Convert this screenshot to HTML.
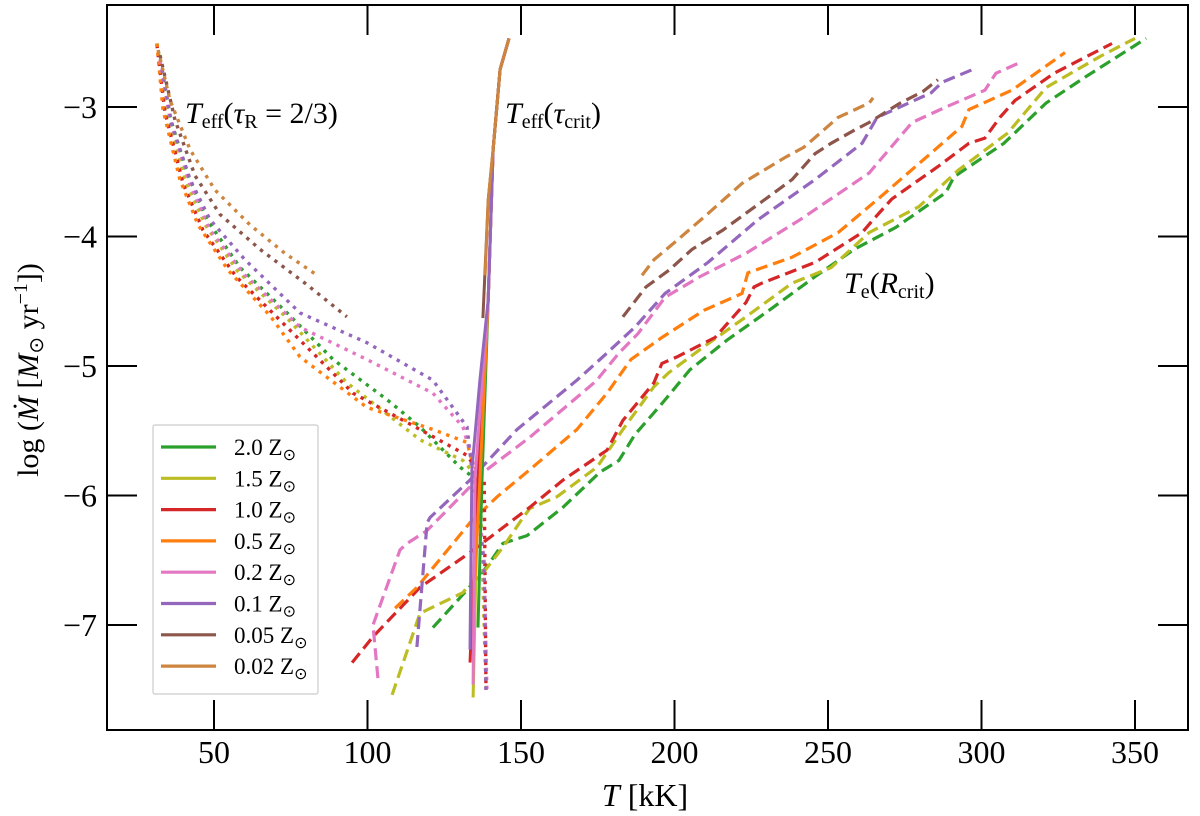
<!DOCTYPE html>
<html><head><meta charset="utf-8"><style>
html,body{margin:0;padding:0;background:#fff;}
svg{display:block;font-family:"Liberation Serif",serif;}
</style></head><body>
<svg id="chart" width="1200" height="816" viewBox="0 0 1200 816" xmlns="http://www.w3.org/2000/svg">
<g id="marks"></g>
<g id="axes"></g>
<text x="185" y="123" font-size="30"><tspan font-style="italic">T</tspan><tspan font-size="20" dy="5">eff</tspan><tspan dy="-5">(</tspan><tspan font-style="italic">τ</tspan><tspan font-size="20" dy="5">R</tspan><tspan dy="-5"> = 2/3)</tspan></text>
<text x="505" y="123" font-size="30"><tspan font-style="italic">T</tspan><tspan font-size="20" dy="5">eff</tspan><tspan dy="-5">(</tspan><tspan font-style="italic">τ</tspan><tspan font-size="20" dy="5">crit</tspan><tspan dy="-5">)</tspan></text>
<text x="844" y="293" font-size="30"><tspan font-style="italic">T</tspan><tspan font-size="20" dy="5">e</tspan><tspan dy="-5">(</tspan><tspan font-style="italic">R</tspan><tspan font-size="20" dy="5">crit</tspan><tspan dy="-5">)</tspan></text>
<text x="645" y="806" font-size="32" text-anchor="middle"><tspan font-style="italic">T</tspan> [kK]</text>
<text transform="translate(38,370) rotate(-90)" font-size="30" text-anchor="middle">log (<tspan font-style="italic">Ṁ</tspan> [<tspan font-style="italic">M</tspan><tspan font-size="20" dy="5">⊙</tspan><tspan dy="-5"> yr</tspan><tspan font-size="20" dy="-11">−1</tspan><tspan dy="11">])</tspan></text>
<g id="legend"></g>
</svg>
<script>
const labels = ['2.0','1.5','1.0','0.5','0.2','0.1','0.05','0.02'];
const colors = ['#2ca02c','#bcbd22','#d62728','#ff7f0e','#e377c2','#9467bd','#8c564b','#cd853f'];
const xTicks = [50,100,150,200,250,300,350];
const yTicks = [-3,-4,-5,-6,-7];

const dotT = [
 [31.4,34.7,41.2,47.7,58.5,73.8,88.8,106.4,117.1,130.1,133.4],
 [31.4,34.4,40.6,47.1,57.8,73.8,93.3,117.1,131.1,136.6,138.6],
 [31.4,34.0,39.9,46.4,57.2,72.5,95.3,117.1,132.4,138.0,138.6],
 [31.4,33.4,38.9,44.8,54.6,68.2,78.0,99.8,121.3,132.4,134.0],
 [32.4,35.7,42.2,48.7,60.1,78.0,99.8,121.3,131.1,135.0,137.9,138.9],
 [33.1,36.3,42.2,48.7,60.1,78.0,99.8,121.3,132.4,134.0,137.9,138.6],
 [32.4,37.3,43.8,52.0,65.0,79.6,93.3],
 [31.8,35.7,42.2,50.3,61.7,73.1,83.6]
];
const dotM = [
 [-2.51,-3.0,-3.51,-3.87,-4.24,-4.59,-4.95,-5.26,-5.47,-5.78,-5.84],
 [-2.51,-3.02,-3.56,-3.91,-4.27,-4.63,-5.13,-5.57,-5.73,-5.88,-7.50],
 [-2.52,-3.04,-3.59,-3.95,-4.31,-4.67,-5.21,-5.49,-5.69,-5.88,-7.50],
 [-2.51,-3.02,-3.56,-3.91,-4.26,-4.61,-4.93,-5.32,-5.49,-5.59,-5.73],
 [-2.64,-3.10,-3.60,-3.95,-4.30,-4.70,-4.95,-5.21,-5.47,-5.80,-6.50,-7.50],
 [-2.71,-3.14,-3.56,-3.87,-4.18,-4.59,-4.82,-5.11,-5.47,-5.80,-6.50,-7.50],
 [-2.60,-3.10,-3.53,-3.83,-4.10,-4.36,-4.62],
 [-2.56,-2.95,-3.33,-3.64,-3.91,-4.13,-4.30]
];
const dashT = [
 [121.3,132.4,138.9,144.1,152.0,163.7,175.7,181.9,187.1,195.9,205.0,217.1,230.8,245.8,258.5,272.1,288.4,291.0,307.3,321.0,333.7,353.6],
 [108.0,115.5,117.1,131.1,132.4,137.6,144.1,150.7,152.9,161.7,174.8,183.2,193.3,198.2,209.6,223.3,238.3,251.0,263.4,279.6,292.3,308.6,321.0,338.6,350.0],
 [95.0,101.8,117.1,133.4,152.9,163.7,178.0,183.2,193.3,195.9,200.8,213.2,223.3,225.9,228.5,245.8,261.1,264.7,270.8,285.8,295.9,301.1,306.0,310.9,323.6,342.5],
 [109.0,116.1,133.4,142.2,152.9,168.2,178.0,185.8,195.9,209.6,222.0,223.9,238.3,253.3,267.3,276.1,293.6,295.9,309.9,327.2],
 [103.4,101.8,110.6,112.9,119.4,138.9,152.9,174.8,175.7,181.9,188.1,196.9,208.3,223.3,240.9,263.4,277.4,288.4,301.1,304.7,312.2],
 [116.1,119.4,120.4,133.4,148.7,168.2,175.7,187.1,196.9,210.9,227.2,245.8,261.1,266.0,283.6,287.1,297.2],
 [183.2,190.7,198.2,205.7,215.8,223.3,230.8,238.3,245.8,251.0,258.5,263.4,273.5,280.9,285.8],
 [189.4,193.3,200.8,209.6,222.0,236.0,242.2,253.3,263.4,264.7]
];
const dashM = [
 [-7.02,-6.73,-6.55,-6.37,-6.31,-6.09,-5.82,-5.73,-5.53,-5.29,-5.03,-4.80,-4.57,-4.31,-4.10,-3.93,-3.66,-3.54,-3.28,-2.97,-2.77,-2.47],
 [-7.54,-7.02,-6.91,-6.75,-6.71,-6.60,-6.40,-6.17,-6.10,-6.01,-5.78,-5.49,-5.16,-5.05,-4.85,-4.62,-4.36,-4.24,-3.97,-3.77,-3.49,-3.20,-2.85,-2.61,-2.47],
 [-7.29,-7.09,-6.71,-6.44,-6.09,-5.88,-5.65,-5.42,-5.13,-4.98,-4.93,-4.78,-4.51,-4.39,-4.36,-4.20,-3.97,-3.87,-3.71,-3.46,-3.28,-3.24,-3.08,-2.95,-2.74,-2.51],
 [-6.87,-6.71,-6.21,-6.01,-5.80,-5.49,-5.21,-4.95,-4.78,-4.57,-4.44,-4.28,-4.16,-3.97,-3.69,-3.51,-3.15,-3.02,-2.87,-2.58],
 [-7.41,-7.00,-6.42,-6.37,-6.27,-5.80,-5.55,-5.11,-5.08,-4.90,-4.75,-4.47,-4.31,-4.13,-3.87,-3.51,-3.12,-3.0,-2.87,-2.74,-2.66],
 [-7.17,-6.21,-6.17,-5.88,-5.49,-5.11,-4.95,-4.70,-4.44,-4.20,-3.87,-3.56,-3.28,-3.08,-2.89,-2.81,-2.71],
 [-4.62,-4.39,-4.26,-4.10,-3.95,-3.82,-3.69,-3.56,-3.36,-3.28,-3.18,-3.12,-2.97,-2.88,-2.79],
 [-4.30,-4.18,-4.03,-3.85,-3.59,-3.39,-3.31,-3.08,-2.97,-2.93]
];
const solidT = [
 [136.0,137.3,139.3,140.9,143.2,146.1],
 [134.4,136.0,139.3,140.9,143.2,146.1],
 [133.4,136.0,139.3,140.9,143.2,146.1],
 [135.0,136.6,139.3,140.9,143.2,146.1],
 [134.4,135.0,139.3,140.9,143.2,146.1],
 [133.4,134.0,136.6,139.3,140.9,143.2,146.1],
 [137.6,139.3,140.9,143.2,146.1],
 [138.3,139.3,140.9,143.2,146.1]
];
const solidM = [
 [-7.02,-5.88,-4.49,-3.33,-2.71,-2.47],
 [-7.56,-5.88,-4.49,-3.33,-2.71,-2.47],
 [-7.29,-5.88,-4.49,-3.33,-2.71,-2.47],
 [-6.65,-5.88,-4.49,-3.33,-2.71,-2.47],
 [-7.46,-5.88,-4.49,-3.33,-2.71,-2.47],
 [-7.19,-5.80,-5.11,-4.49,-3.33,-2.71,-2.47],
 [-4.63,-3.72,-3.33,-2.71,-2.47],
 [-4.30,-3.72,-3.33,-2.71,-2.47]
];

const NS='http://www.w3.org/2000/svg';
const L=107,R=1188,T0=5,B=730;
function xs(t){return 214+(t-50)*3.07;}
function ys(m){return 107+(-3-m)*129.5;}
function mk(tag,attrs,parent){const e=document.createElementNS(NS,tag);for(const k in attrs)e.setAttribute(k,attrs[k]);parent.appendChild(e);return e;}
const marks=document.getElementById('marks');
const axes=document.getElementById('axes');
function pathD(ts,ms){return ts.map((t,i)=>(i?'L':'M')+xs(t).toFixed(1)+' '+ys(ms[i]).toFixed(1)).join(' ');}

for(let i=0;i<labels.length;i++){
  const p=mk('path',{d:pathD(dashT[i],dashM[i]),fill:'none',stroke:colors[i],'stroke-width':3.2,'stroke-dasharray':'12 6'},marks);
  
  
}
for(let i=0;i<labels.length;i++){
  const p=mk('path',{d:pathD(dotT[i],dotM[i]),fill:'none',stroke:colors[i],'stroke-width':3.4,'stroke-dasharray':'3.4 5.6'},marks);
  
  
}
for(let i=0;i<labels.length;i++){
  const p=mk('path',{d:pathD(solidT[i],solidM[i]),fill:'none',stroke:colors[i],'stroke-width':3},marks);
  
  
}

const frame=mk('rect',{x:L,y:T0,width:R-L,height:B-T0,fill:'none',stroke:'#000','stroke-width':2},axes);


xTicks.forEach(v=>{
  const x=xs(v);
  const t1=mk('line',{x1:x,x2:x,y1:B,y2:B-30,stroke:'#000','stroke-width':2},axes);
  
  
  const t2=mk('line',{x1:x,x2:x,y1:T0,y2:T0+30,stroke:'#000','stroke-width':2},axes);
  
  
  const lb=mk('text',{x:x,y:763,'font-size':32,'text-anchor':'middle'},axes);
  lb.textContent=String(v);
  
  
});
yTicks.forEach(v=>{
  const y=ys(v);
  const t1=mk('line',{x1:L,x2:L+30,y1:y,y2:y,stroke:'#000','stroke-width':2},axes);
  
  
  const t2=mk('line',{x1:R,x2:R-30,y1:y,y2:y,stroke:'#000','stroke-width':2},axes);
  
  
  const lb=mk('text',{x:97,y:y+11,'font-size':32,'text-anchor':'end'},axes);
  lb.textContent='−'+String(Math.abs(v));
  
  
});

const lg=document.getElementById('legend');
const box=mk('rect',{x:153,y:425,width:165,height:269,fill:'#fff',stroke:'#ccc','stroke-width':1.2,rx:2},lg);


labels.forEach((lab,i)=>{
  const y=447+i*31.3;
  const ln=mk('line',{x1:161,x2:216,y1:y,y2:y,stroke:colors[i],'stroke-width':3.2},lg);
  
  
  const tx=mk('text',{x:234,y:y+8,'font-size':23},lg);
  tx.innerHTML=lab+' Z<tspan font-size="16" dy="5">⊙</tspan>';
  
  
});
</script>
</body></html>
